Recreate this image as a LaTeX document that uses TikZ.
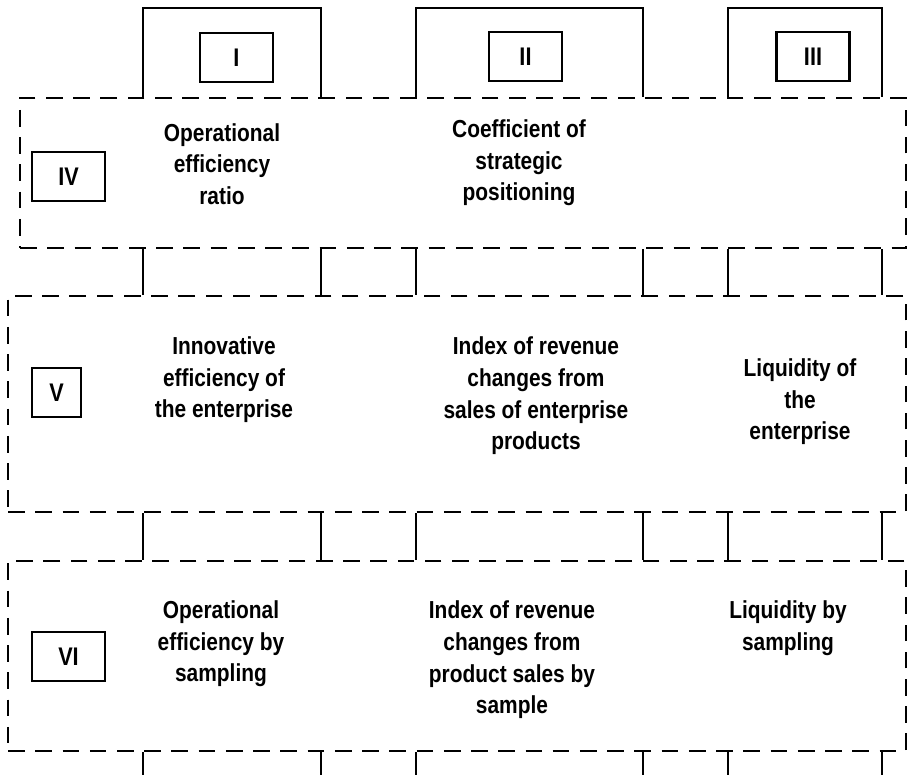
\documentclass[tikz,border=0pt]{standalone}
\usepackage{fontspec}
\setmainfont{Liberation Sans}[FakeStretch=0.85]

\tikzset{
    rowbox/.style={draw, dash pattern=on 9.5pt off 6pt, inner sep=0pt},
    tagbox/.style={draw, line width=1.3pt, inner sep=0pt, minimum width=1.46cm, minimum height=0.99cm,
        font=\fontsize{14.5pt}{18pt}\selectfont\bfseries},
    txt/.style={align=center, inner sep=0pt, font=\fontsize{14pt}{18pt}\selectfont\bfseries},
}

\begin{document}
\begin{tikzpicture}[x=0.02cm, y=-0.02cm, line width=1.6pt]
\useasboundingbox (0,0) rectangle (907,775);

% the three dashed rows
\node[rowbox, minimum width=17.72cm, minimum height=3cm] (rowIV) at (463,173) {};
\node[rowbox, minimum width=17.96cm, minimum height=4.32cm] (rowV) at (457,404) {};
\node[rowbox, minimum width=17.96cm, minimum height=3.8cm] (rowVI) at (457,656) {};

% column positions
\coordinate (top) at (0,8);
\coordinate (bottom) at (0,775);
\foreach \n/\x in {a/143, b/321, c/416, d/643, e/728, f/882}
    \coordinate (\n) at (\x,0);

% brackets on top
\foreach \l/\r in {a/b, c/d, e/f}
    \draw (rowIV.north -| \l) -- (\l |- top) -- (\r |- top) -- (rowIV.north -| \r);

% links between the rows
\foreach \c in {a, b, c, d, e, f} {
    \draw (rowIV.south -| \c) -- (rowV.north -| \c);
    \draw (rowV.south -| \c) -- (rowVI.north -| \c);
    \draw (rowVI.south -| \c) -- (\c |- bottom);
}

% tags
\node[tagbox] (tagI) at (236.5,57.5) {I};
\node[tagbox] (tagII) at (525.5,56.5) {II};
\node[tagbox] (tagIII) at (813,56.5) {III};
\node[tagbox] (tagIV) at (68.5,176.5) {IV};
\node[tagbox, minimum width=0.98cm] (tagV) at (56.5,392.5) {V};
\node[tagbox] (tagVI) at (68.5,656.5) {VI};

% texts
\node[txt] (opratio) at (222,164) {Operational\\efficiency\\ratio};
\node[txt] (strategic) at (519,163) {Coefficient of\\strategic\\positioning};
\node[txt] (innov) at (224,380) {Innovative\\efficiency of\\the enterprise};
\node[txt] (revenue) at (536,396) {Index of revenue\\changes from\\sales of enterprise\\products};
\node[txt] (liquid) at (800,402) {Liquidity of\\the\\enterprise};
\node[txt] (opsample) at (221,644) {Operational\\efficiency by\\sampling};
\node[txt] (revsample) at (512,660) {Index of revenue\\changes from\\product sales by\\sample};
\node[txt] (liqsample) at (788,628) {Liquidity by\\sampling};
\end{tikzpicture}
\end{document}
